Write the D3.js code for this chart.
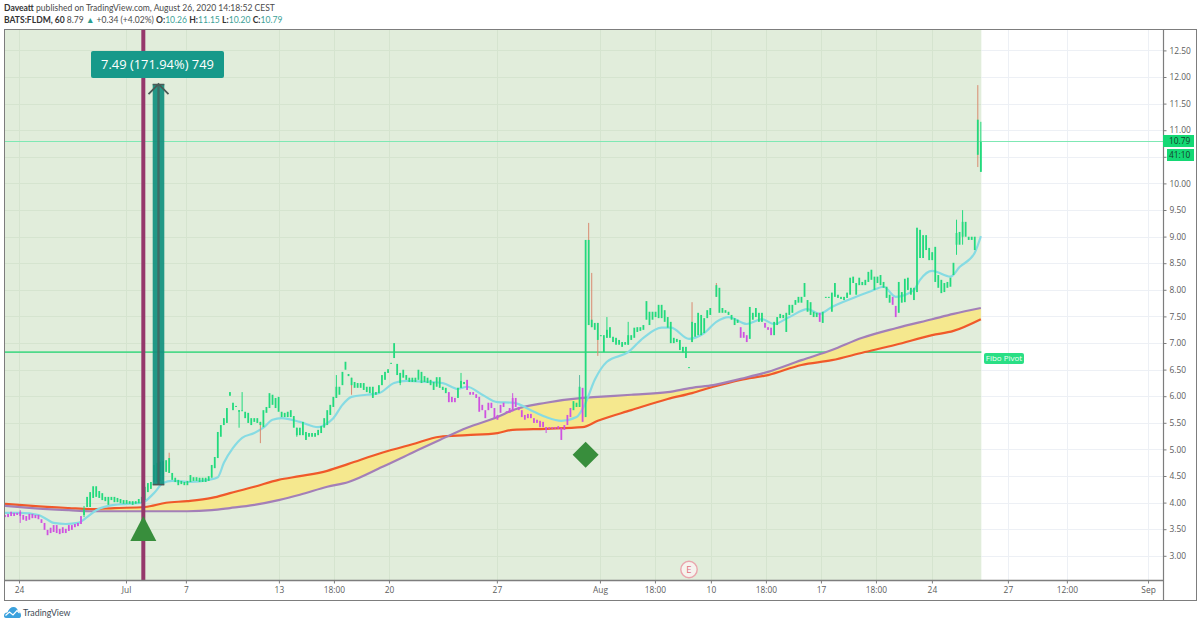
<!DOCTYPE html>
<html>
<head>
<meta charset="utf-8">
<script src="https://d3js.org/d3.v7.min.js"></script>
<style>
  html, body { margin: 0; padding: 0; background: #fff; }
  text { font-family: "Open Sans", sans-serif; }
</style>
</head>
<body>
<div class="ourChart"></div>
<script>
// candle bodies, one entry per bar slot, 10 per row (null = no bar in that slot)
const bodyTop = [
  3.79,3.81,3.85,3.83,3.83,3.85,3.79,3.77,3.81,3.81,
  3.79,3.79,3.71,3.64,3.51,3.55,3.60,3.60,3.53,3.56,
  3.53,3.60,3.60,3.62,3.64,3.77,3.90,4.13,4.22,4.33,
  4.33,4.24,4.20,4.13,4.13,4.13,4.13,4.11,4.09,4.07,
  4.07,4.05,4.05,4.05,4.09,4.13,4.32,4.39,4.41,4.73,
  4.77,4.79,4.80,4.82,4.86,4.58,4.49,4.45,4.43,4.41,
  4.43,4.54,4.50,4.50,4.49,4.49,4.49,4.52,4.73,4.88,
  5.35,5.48,5.61,5.80,6.10,5.90,5.84,5.76,5.76,5.73,
  5.71,5.61,5.61,5.61,5.54,5.76,5.82,6.08,6.05,5.99,
  6.01,5.73,5.71,5.73,5.76,5.65,5.43,5.43,5.54,5.35,
  5.33,5.33,5.33,5.39,5.46,5.61,5.76,5.86,6.01,6.20,
  6.20,6.48,6.67,6.44,6.37,6.29,6.27,6.27,6.27,6.20,
  6.20,6.20,6.10,6.23,6.42,6.48,6.53,6.65,7.02,6.63,
  6.46,6.52,6.42,6.37,6.37,6.37,6.52,6.48,6.40,6.37,
  6.33,6.29,6.38,6.38,6.20,6.18,6.10,6.01,5.99,6.18,
  6.31,6.29,6.33,6.10,6.10,6.06,6.01,5.86,5.76,5.90,
  5.90,5.80,5.67,5.86,5.90,5.74,5.80,5.99,5.99,5.82,
  5.76,5.67,5.69,5.69,5.61,5.58,5.56,5.54,5.44,5.44,
  5.44,5.44,5.46,5.43,5.48,5.67,5.80,5.93,5.90,6.20,
  6.18,8.96,8.96,7.46,7.40,7.40,7.17,7.17,7.27,7.32,
  7.14,7.12,7.08,7.04,7.04,7.17,7.17,7.31,7.32,7.32,
  7.36,7.81,7.61,7.61,7.61,7.74,7.74,7.64,7.51,7.42,
  7.12,7.10,7.08,6.95,6.95,6.57,7.42,7.40,7.59,7.55,
  7.49,7.64,7.68,null,8.11,8.06,7.68,7.64,7.61,7.55,
  7.49,7.46,7.32,7.23,7.17,7.70,7.59,7.68,7.59,7.59,
  7.40,7.32,7.31,7.42,7.51,7.57,7.55,7.59,7.74,7.74,
  7.83,7.89,7.89,8.15,7.83,7.79,7.61,7.59,7.59,7.61,
  7.89,7.89,7.97,8.15,7.93,7.89,7.89,7.97,8.25,8.27,
  8.15,8.25,8.17,8.21,8.36,8.40,8.27,8.27,8.30,8.17,
  8.08,7.93,7.89,7.72,8.17,7.98,8.23,8.25,8.06,8.06,
  9.19,9.15,9.05,9.05,8.81,8.73,8.83,8.30,8.21,8.15,
  8.17,8.25,8.53,9.09,9.11,9.30,9.30,9.02,9.02,9.02,11.22,10.80
];
const bodyBottom = [
  3.75,3.75,3.77,3.77,3.79,3.77,3.70,3.68,3.70,3.73,
  3.73,3.71,3.64,3.51,3.41,3.45,3.47,3.45,3.43,3.45,
  3.45,3.49,3.51,3.56,3.58,3.62,3.79,3.94,3.94,4.11,
  4.13,4.11,4.07,4.05,3.98,4.07,4.03,4.03,4.01,4.00,
  4.00,4.00,3.98,4.00,4.01,4.01,4.07,4.22,4.28,4.41,
  4.41,4.43,4.45,4.60,4.58,4.45,4.41,4.35,4.37,4.35,
  4.35,4.41,4.43,4.43,4.41,4.41,4.41,4.43,4.49,4.67,
  4.86,5.26,5.48,5.52,6.03,5.76,5.82,5.73,5.74,5.61,
  5.52,5.48,5.54,5.52,5.48,5.44,5.71,5.80,5.86,5.80,
  5.73,5.63,5.63,5.63,5.63,5.43,5.29,5.29,5.29,5.20,
  5.26,5.26,5.26,5.29,5.33,5.43,5.48,5.67,5.82,5.99,
  6.05,6.23,6.52,6.40,6.23,6.18,6.18,6.18,6.14,6.10,
  6.08,5.99,6.05,6.08,6.23,6.33,6.46,6.63,6.74,6.42,
  6.27,6.37,6.33,6.29,6.29,6.29,6.33,6.27,6.29,6.27,
  6.23,6.14,6.20,6.18,6.14,6.08,5.91,5.91,5.91,5.99,
  6.18,6.25,6.14,6.05,6.05,5.99,5.73,5.76,5.61,5.76,
  5.80,5.61,5.58,5.71,5.82,5.71,5.71,5.74,5.82,5.76,
  5.63,5.58,5.61,5.61,5.52,5.52,5.44,5.44,5.39,5.41,
  5.41,5.41,5.41,5.20,5.39,5.48,5.63,5.76,5.82,5.82,
  5.54,5.63,7.36,7.32,7.27,7.08,7.15,6.85,7.12,7.12,
  7.04,6.99,6.99,6.95,6.99,6.99,7.08,7.12,7.23,7.25,
  7.27,7.46,7.36,7.46,7.51,7.49,7.49,7.42,7.31,7.02,
  7.02,7.04,6.89,6.84,6.74,6.55,7.04,7.14,7.17,7.17,
  7.21,7.49,7.55,null,7.89,7.59,7.59,7.59,7.55,7.46,
  7.36,7.40,7.12,7.12,7.04,7.10,7.46,7.51,7.42,7.42,
  7.31,7.27,7.17,7.17,7.36,7.49,7.49,7.23,7.55,7.59,
  7.74,7.78,7.78,7.89,7.61,7.55,7.51,7.51,7.42,7.40,
  7.87,7.87,7.61,7.89,7.87,7.85,7.83,7.87,7.93,8.15,
  7.93,8.11,8.11,8.11,8.17,8.21,8.02,8.15,8.11,8.06,
  7.87,7.78,7.74,7.51,7.59,7.78,7.79,8.02,7.93,7.83,
  7.98,8.62,8.62,8.77,8.58,8.58,8.17,8.06,7.96,7.98,
  8.06,8.08,8.30,8.87,8.87,9.02,9.02,8.96,8.96,8.77,10.56,10.24
];

// only the wicks that can be told apart from the body
const wickBars  = [5,26,54,77,78,84,96,109,114,130,150,167,178,189,192,193,195,198,205,226,234,313,315,320,321];
const wickHighs = [3.88,3.96,4.96,5.76,6.10,5.54,5.43,6.42,6.37,6.46,6.46,6.08,5.44,6.42,9.28,8.34,7.40,7.51,7.42,7.79,8.15,9.34,9.52,11.87,11.18];
const wickLows  = [3.64,3.75,4.58,5.43,5.76,5.14,5.26,5.99,6.05,6.23,6.18,5.74,5.33,5.82,7.36,7.32,6.78,7.12,6.99,7.04,7.89,8.68,8.87,10.33,10.24];
const redWicks  = [54,84,114,192,193,195,226,234,320];

// bar slots painted magenta, [first, last]
const magentaRuns = [[0,25],[146,148],[152,186],[190,190],[242,244],[250,252],[268,268],[292,293]];

// indicators, read at a few bars and joined by a curve
const emaBars = [0,5,11,14,16,20,24,27,30,34,40,45,49,52,55,61,67,70,72,75,78,82,85,88,91,97,103,105,108,111,114,119,123,128,132,139,144,149,152,157,162,167,174,178,183,188,191,194,198,205,210,216,219,225,230,234,238,244,249,253,258,264,268,272,279,285,289,293,299,301,305,311,314,319,321];
const emaValues = [3.83,3.83,3.79,3.70,3.64,3.62,3.64,3.75,3.88,3.96,4.00,4.02,4.20,4.39,4.43,4.41,4.45,4.50,4.77,5.05,5.24,5.33,5.43,5.58,5.61,5.54,5.44,5.48,5.61,5.86,6.01,6.05,6.08,6.27,6.31,6.29,6.27,6.16,6.20,6.05,5.91,5.90,5.73,5.63,5.56,5.63,5.90,6.33,6.67,6.85,7.12,7.31,7.31,7.10,7.21,7.42,7.51,7.38,7.47,7.38,7.51,7.66,7.57,7.70,7.87,8.00,8.08,7.89,8.02,8.21,8.38,8.27,8.45,8.72,9.03];
const maBars = [0,9,21,28,36,46,53,60,68,74,82,90,97,106,113,124,134,143,152,162,167,178,190,195,206,218,226,233,242,251,262,272,282,293,305,312,321];
const fastMa = [4.00,3.96,3.92,3.90,3.92,3.94,4.02,4.05,4.11,4.20,4.32,4.45,4.52,4.62,4.75,4.96,5.12,5.26,5.29,5.33,5.39,5.41,5.44,5.56,5.76,5.97,6.08,6.20,6.33,6.42,6.61,6.70,6.84,6.99,7.17,7.25,7.47];
const slowMa = [3.96,3.92,3.88,3.86,3.86,3.86,3.86,3.86,3.88,3.92,3.98,4.07,4.17,4.32,4.41,4.69,4.96,5.20,5.43,5.63,5.76,5.90,5.99,6.01,6.05,6.10,6.18,6.23,6.35,6.48,6.70,6.89,7.12,7.30,7.47,7.57,7.68];

// axes
const priceTicks = [3,3.5,4,4.5,5,5.5,6,6.5,7,7.5,8,8.5,9,9.5,10,10.5,11,11.5,12,12.5];
const timeTickBars = [4.6,39.8,59.5,90.1,108.2,126.3,161.8,195.7,213.8,232.2,250.3,268.4,286.5,304.9,329.9,349.3,376];
const timeTickLabels = ["24","Jul","7","13","18:00","20","27","Aug","18:00","10","18:00","17","18:00","24","27","12:00","Sep"];

const pivotPrice = 6.85;
const lastPrice = 10.79;
const signalBar = 45.5;
const diamondBar = 191;
const earningsBar = 225;
const measureFrom = 4.36;
const measureTo = 11.89;

const width = 1200, height = 625;
const plotLeft = 4, plotRight = 1163, outerRight = 1196, plotTop = 29, plotBottom = 580, outerBottom = 600;
const green = "#22da7d", magenta = "#cf52e0", redWick = "#d98a70";

const x = d3.scaleLinear().domain([0, 321]).range([5, 5 + 3.04 * 321]);
// y is what the marks were read against, the printed axis sits one pixel higher
const y = d3.scaleLinear().domain([3, 12.5]).range([557, 51.6]);
const yAxisScale = d3.scaleLinear().domain([3, 12.5]).range([555.8, 50.4]);
const plotEnd = x(321) + 0.5;

const svg = d3.select(".ourChart").append("svg")
  .attr("width", width)
  .attr("height", height)
  .style("display", "block");

svg.append("rect")
  .attr("x", plotLeft).attr("y", plotTop)
  .attr("width", plotEnd - plotLeft).attr("height", plotBottom - plotTop)
  .attr("fill", "#e1eddb");

// grid, paler on the white part
function drawGrid(x1, x2, colour) {
  const g = svg.append("g").attr("stroke", colour).attr("stroke-width", 1);
  priceTicks.forEach(p => {
    g.append("line").attr("x1", x1).attr("x2", x2)
      .attr("y1", Math.round(yAxisScale(p)) + 0.5).attr("y2", Math.round(yAxisScale(p)) + 0.5);
  });
  timeTickBars.filter(b => x(b) > x1 && x(b) < x2).forEach(b => {
    g.append("line").attr("y1", plotTop).attr("y2", plotBottom)
      .attr("x1", Math.round(x(b)) + 0.5).attr("x2", Math.round(x(b)) + 0.5);
  });
}
drawGrid(plotLeft, plotEnd, "#d5e4cf");
drawGrid(plotEnd, plotRight, "#edf0f5");

// fibo pivot line
svg.append("line")
  .attr("x1", plotLeft).attr("x2", plotEnd)
  .attr("y1", y(pivotPrice)).attr("y2", y(pivotPrice))
  .attr("stroke", "#4fd98a").attr("stroke-width", 1.8);

// last price line
svg.append("line")
  .attr("x1", plotLeft).attr("x2", plotRight)
  .attr("y1", Math.round(yAxisScale(lastPrice)) + 0.5).attr("y2", Math.round(yAxisScale(lastPrice)) + 0.5)
  .attr("stroke", "#7fe8b4").attr("stroke-width", 1);

// ribbon between the two averages
const maRows = maBars.map((b, i) => ({ bar: b, fast: fastMa[i], slow: slowMa[i] }));
const ribbon = d3.area()
  .x(d => x(d.bar))
  .y0(d => y(d.fast))
  .y1(d => y(d.slow))
  .curve(d3.curveMonotoneX);
svg.append("path")
  .datum(maRows)
  .attr("d", ribbon)
  .attr("fill", "#f5e88e");

const fastLine = d3.line().x(d => x(d.bar)).y(d => y(d.fast)).curve(d3.curveMonotoneX);
const slowLine = d3.line().x(d => x(d.bar)).y(d => y(d.slow)).curve(d3.curveMonotoneX);
svg.append("path").datum(maRows).attr("d", fastLine)
  .attr("fill", "none").attr("stroke", "#f0592a").attr("stroke-width", 2.2);
svg.append("path").datum(maRows).attr("d", slowLine)
  .attr("fill", "none").attr("stroke", "#a37fb8").attr("stroke-width", 2.2);

// fast cyan average
const emaRows = emaBars.map((b, i) => ({ bar: b, value: emaValues[i] }));
svg.append("path")
  .datum(emaRows)
  .attr("d", d3.line().x(d => x(d.bar)).y(d => y(d.value)).curve(d3.curveMonotoneX))
  .attr("fill", "none").attr("stroke", "#86dbe3").attr("stroke-width", 2.2);

function barColour(i) {
  return magentaRuns.some(r => i >= r[0] && i <= r[1]) ? magenta : green;
}

// wicks
const wicks = svg.append("g");
wickBars.forEach((b, i) => {
  wicks.append("line")
    .attr("x1", x(b)).attr("x2", x(b))
    .attr("y1", y(wickHighs[i])).attr("y2", y(wickLows[i]))
    .attr("stroke", redWicks.includes(b) ? redWick : (b === 189 ? "#5fb9a0" : barColour(b)))
    .attr("stroke-width", 1);
});

// bodies
const bars = d3.range(bodyTop.length).filter(i => bodyTop[i] !== null);
svg.append("g").selectAll("rect")
  .data(bars)
  .join("rect")
  .attr("x", i => x(i) - 0.9)
  .attr("y", i => y(bodyTop[i]))
  .attr("width", 1.8)
  .attr("height", i => Math.max(1, y(bodyBottom[i]) - y(bodyTop[i])))
  .attr("fill", i => barColour(i));

// vertical signal line
svg.append("line")
  .attr("x1", x(signalBar)).attr("x2", x(signalBar))
  .attr("y1", plotTop).attr("y2", plotBottom)
  .attr("stroke", "#95386b").attr("stroke-width", 4);

// triangle and diamond markers
const triY = y(3.77);
svg.append("path")
  .attr("d", `M${x(signalBar)},${triY} L${x(signalBar) + 13},${triY + 25} L${x(signalBar) - 13},${triY + 25} Z`)
  .attr("fill", "#388e3c");
const diaY = y(4.92);
svg.append("path")
  .attr("d", `M${x(diamondBar)},${diaY - 13} L${x(diamondBar) + 13},${diaY} L${x(diamondBar)},${diaY + 13} L${x(diamondBar) - 13},${diaY} Z`)
  .attr("fill", "#388e3c");

// price range measure: arrow plus label
const armX = 158.5;
svg.append("rect")
  .attr("x", armX - 5.8).attr("y", y(measureTo))
  .attr("width", 11.6).attr("height", y(measureFrom) - y(measureTo))
  .attr("fill", "#12917f").attr("opacity", 0.93);
const arrow = svg.append("g").attr("stroke", "#4a5a57").attr("fill", "none");
arrow.append("line").attr("x1", armX).attr("x2", armX)
  .attr("y1", y(measureTo)).attr("y2", y(measureFrom))
  .attr("stroke-width", 2.4).attr("opacity", 0.7);
arrow.append("line").attr("x1", armX - 5.8).attr("x2", armX + 5.8)
  .attr("y1", y(measureFrom)).attr("y2", y(measureFrom))
  .attr("stroke-width", 1.6);
arrow.append("line").attr("x1", armX - 5.8).attr("x2", armX + 5.8)
  .attr("y1", y(measureTo) + 0.5).attr("y2", y(measureTo) + 0.5)
  .attr("stroke-width", 1.6);
arrow.append("path")
  .attr("d", `M${armX - 10},${y(measureTo) + 10} L${armX},${y(measureTo)} L${armX + 10},${y(measureTo) + 10}`)
  .attr("stroke-width", 1.8);

svg.append("rect")
  .attr("x", 91).attr("y", 51)
  .attr("width", 133).attr("height", 27)
  .attr("rx", 2)
  .attr("fill", "#17998a");
svg.append("text")
  .attr("x", 157.5).attr("y", 69)
  .attr("text-anchor", "middle")
  .attr("fill", "#fff")
  .style("font-size", "12.9px")
  .text("7.49 (171.94%) 749");

// earnings mark
svg.append("circle")
  .attr("cx", x(earningsBar)).attr("cy", 569.5).attr("r", 8.2)
  .attr("fill", "#f6f3ee").attr("stroke", "#eaa5ad").attr("stroke-width", 1.4);
svg.append("text")
  .attr("x", x(earningsBar)).attr("y", 573)
  .attr("text-anchor", "middle")
  .attr("fill", "#e0707e")
  .style("font-size", "9.5px")
  .text("E");

// frame and axes
const axisColour = "#7d7d7d";
svg.append("rect")
  .attr("x", plotLeft + 0.5).attr("y", plotTop + 0.5)
  .attr("width", outerRight - plotLeft).attr("height", outerBottom - plotTop)
  .attr("fill", "none").attr("stroke", axisColour);

// 10.50 has no printed label, the countdown box sits there
const priceAxis = d3.axisRight(yAxisScale)
  .tickValues(priceTicks)
  .tickFormat(d => d === 10.5 ? "" : d3.format(".2f")(d))
  .tickSize(3)
  .tickPadding(3);
const gy = svg.append("g")
  .attr("transform", `translate(${plotRight + 0.5},0)`)
  .call(priceAxis);

const timeAxis = d3.axisBottom(x)
  .tickValues(timeTickBars)
  .tickFormat((d, i) => timeTickLabels[i])
  .tickSize(3)
  .tickPadding(4);
const gx = svg.append("g")
  .attr("transform", `translate(0,${plotBottom + 0.5})`)
  .call(timeAxis);

gx.select(".domain").attr("d", `M${plotLeft},0H${plotRight}`).attr("stroke", axisColour).attr("stroke-width", 1.4);
gy.select(".domain").attr("d", `M0,${plotTop}V${outerBottom}`).attr("stroke", axisColour).attr("stroke-width", 1.2);
[gx, gy].forEach(g => {
  g.selectAll(".tick line").attr("stroke", axisColour);
  g.selectAll(".tick text").attr("fill", "#5c5c5c").style("font-size", "8.4px").style("font-family", '"Open Sans", sans-serif');
});

// last price boxes
svg.append("rect").attr("x", plotRight).attr("y", 135).attr("width", 31).attr("height", 12).attr("fill", "#14d874");
svg.append("text").attr("x", 1169).attr("y", 144).attr("fill", "#15402b")
  .style("font-size", "8.4px").text(lastPrice.toFixed(2));
svg.append("rect").attr("x", plotRight + 4).attr("y", 149).attr("width", 27).attr("height", 12).attr("fill", "#14d874");
svg.append("text").attr("x", 1169).attr("y", 158).attr("fill", "#15402b")
  .style("font-size", "8.4px").text("41:10");

// fibo pivot label
svg.append("rect").attr("x", 984).attr("y", 353).attr("width", 40).attr("height", 11).attr("rx", 2).attr("fill", "#2adf85");
svg.append("text").attr("x", 1004).attr("y", 361.3).attr("text-anchor", "middle")
  .attr("fill", "#f2fff7").style("font-size", "8px").text("Fibo Pivot");

// header lines
const headFont = "Lato, sans-serif";
const head1 = svg.append("text").attr("x", 4).attr("y", 11).style("font-size", "8.55px")
  .style("font-family", headFont).attr("fill", "#4a4a4a");
head1.append("tspan").attr("font-weight", 700).attr("fill", "#333").text("Daveatt");
head1.append("tspan").text(" published on TradingView.com, August 26, 2020 14:18:52 CEST");

const head2 = svg.append("text").attr("x", 4).attr("y", 23).style("font-size", "8.55px")
  .style("font-family", headFont).attr("fill", "#4a4a4a");
const teal = "#3d9f97";
head2.append("tspan").attr("font-weight", 700).attr("fill", "#333").text("BATS:FLDM, 60 ");
head2.append("tspan").text("8.79 ");
head2.append("tspan").attr("fill", "#2a9d8f").text("▲ ");
head2.append("tspan").text("+0.34 (+4.02%) ");
[["O:", "10.26"], ["H:", "11.15"], ["L:", "10.20"], ["C:", "10.79"]].forEach(p => {
  head2.append("tspan").attr("font-weight", 700).attr("fill", "#333").text(p[0]);
  head2.append("tspan").attr("fill", teal).text(p[1] + " ");
});

// logo
const logo = svg.append("g").attr("transform", "translate(4,607)");
logo.append("path")
  .attr("d", "M0,9 C0,6 2,5.5 3.5,5.5 C4.5,2 7,0 9.5,0 C12,0 13.5,2 14,4 C16,4.5 17,6.5 17,8.5 C17,10.5 16,11 14.5,11 L2,11 C0.8,11 0,10.2 0,9 Z")
  .attr("fill", "#3ba1dd");
logo.append("path")
  .attr("d", "M1.5,8.5 L5.5,5 L9,8 L13,3.5 L15.5,6")
  .attr("fill", "none").attr("stroke", "#fff").attr("stroke-width", 1.2);
svg.append("text").attr("x", 23).attr("y", 616)
  .attr("fill", "#3c4a55").style("font-family", headFont).style("font-size", "8.8px").text("TradingView");
</script>
</body>
</html>
